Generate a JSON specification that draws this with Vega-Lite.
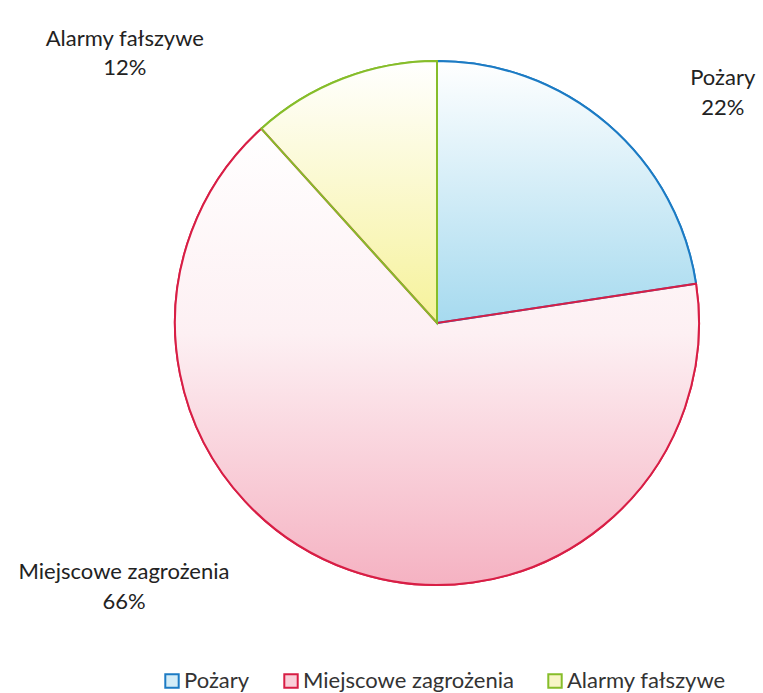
{
  "$schema": "https://vega.github.io/schema/vega-lite/v6.json",
  "width": 652,
  "height": 646,
  "autosize": {"type": "none"},
  "padding": {"left": 111, "top": 0, "right": 0, "bottom": 47},
  "background": "white",
  "data": {
    "values": [
      {"cat": "Pożary", "value": 22.6, "ord": 1, "label": "Pożary\n22%"},
      {"cat": "Miejscowe zagrożenia", "value": 65.7, "ord": 2, "label": "Miejscowe zagrożenia\n66%"},
      {"cat": "Alarmy fałszywe", "value": 11.7, "ord": 3, "label": "Alarmy fałszywe\n12%"}
    ]
  },
  "encoding": {
    "theta": {"field": "value", "type": "quantitative", "stack": true},
    "order": {"field": "ord", "type": "quantitative"}
  },
  "layer": [
    {
      "mark": {"type": "arc", "outerRadius": 262, "strokeWidth": 2},
      "encoding": {
        "fill": {
          "field": "cat", "type": "nominal",
          "scale": {"domain": ["Pożary", "Miejscowe zagrożenia", "Alarmy fałszywe"], "range": ["#d3ecf7", "#f9d0da", "#f7f5c6"]},
          "legend": {
            "title": null, "orient": "none", "legendX": 50, "legendY": 670, "direction": "horizontal",
            "symbolType": "square", "symbolSize": 180, "symbolStrokeWidth": 2,
            "labelFont": "Lato", "labelFontSize": 22, "labelColor": "#333333", "labelLimit": 400,
            "columnPadding": 30, "labelOffset": 1
          }
        },
        "stroke": {
          "field": "cat", "type": "nominal",
          "scale": {"domain": ["Pożary", "Miejscowe zagrożenia", "Alarmy fałszywe"], "range": ["#1c7bc4", "#d81e45", "#86bd2a"]},
          "legend": {
            "title": null, "orient": "none", "legendX": 50, "legendY": 670, "direction": "horizontal",
            "symbolType": "square", "symbolSize": 180, "symbolStrokeWidth": 2,
            "labelFont": "Lato", "labelFontSize": 22, "labelColor": "#333333", "labelLimit": 400,
            "columnPadding": 30, "labelOffset": 1
          }
        }
      }
    },
    {
      "mark": {"type": "arc", "outerRadius": 262, "strokeWidth": 0,
        "fill": {"gradient": "linear", "x1": 0, "y1": 0, "x2": 0, "y2": 1,
          "stops": [{"offset": 0, "color": "#ffffff"}, {"offset": 1, "color": "#a6daef"}]}},
      "encoding": {"fillOpacity": {"condition": {"test": "datum.cat === 'Pożary'", "value": 1}, "value": 0}}
    },
    {
      "mark": {"type": "arc", "outerRadius": 262, "strokeWidth": 0,
        "fill": {"gradient": "linear", "x1": 0, "y1": 0, "x2": 0, "y2": 1,
          "stops": [{"offset": 0, "color": "#ffffff"}, {"offset": 0.45, "color": "#fdf0f3"}, {"offset": 1, "color": "#f5b2c2"}]}},
      "encoding": {"fillOpacity": {"condition": {"test": "datum.cat === 'Miejscowe zagrożenia'", "value": 1}, "value": 0}}
    },
    {
      "mark": {"type": "arc", "outerRadius": 262, "strokeWidth": 0,
        "fill": {"gradient": "linear", "x1": 0, "y1": 0, "x2": 0, "y2": 1,
          "stops": [{"offset": 0, "color": "#ffffff"}, {"offset": 1, "color": "#f6f29a"}]}},
      "encoding": {"fillOpacity": {"condition": {"test": "datum.cat === 'Alarmy fałszywe'", "value": 1}, "value": 0}}
    },
    {
      "mark": {"type": "arc", "outerRadius": 262, "fillOpacity": 0, "strokeWidth": 2},
      "encoding": {
        "stroke": {"field": "cat", "type": "nominal", "legend": null}
      }
    },
    {
      "mark": {"type": "text", "radius": 262, "dx": 115, "dy": -46, "lineBreak": "\n", "font": "Lato", "fontSize": 22, "fill": "#222222", "lineHeight": 30},
      "encoding": {"text": {"field": "label"}, "opacity": {"condition": {"test": "datum.cat === 'Pożary'", "value": 1}, "value": 0}}
    },
    {
      "mark": {"type": "text", "radius": 262, "dx": -225, "dy": 2, "lineBreak": "\n", "font": "Lato", "fontSize": 22, "fill": "#222222", "lineHeight": 30},
      "encoding": {"text": {"field": "label"}, "opacity": {"condition": {"test": "datum.cat === 'Miejscowe zagrożenia'", "value": 1}, "value": 0}}
    },
    {
      "mark": {"type": "text", "radius": 262, "dx": -218, "dy": -40, "lineBreak": "\n", "font": "Lato", "fontSize": 22, "fill": "#222222", "lineHeight": 29},
      "encoding": {"text": {"field": "label"}, "opacity": {"condition": {"test": "datum.cat === 'Alarmy fałszywe'", "value": 1}, "value": 0}}
    }
  ]
}
